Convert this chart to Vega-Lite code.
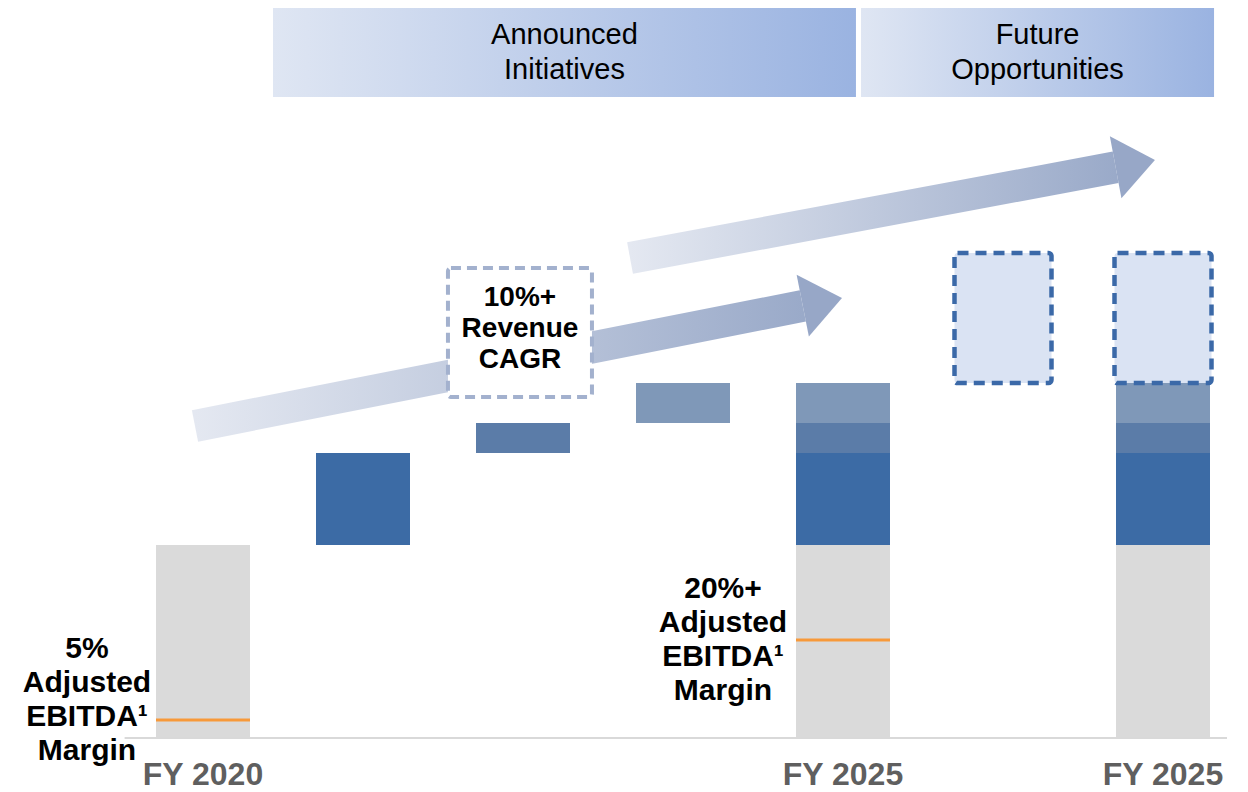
{
  "$schema": "https://vega.github.io/schema/vega-lite/v6.json",
  "width": 1248,
  "height": 738,
  "autosize": "none",
  "padding": {"left": 0, "right": 0, "top": 0, "bottom": 54},
  "background": "white",
  "config": {"view": {"stroke": null}},
  "datasets": {
    "headers": [
      {"a": 0.4375, "b": 4.081, "lo": 332.1, "hi": 378.2, "mid": 2.259, "vmid": 355.2, "label": "Announced\nInitiatives"},
      {"a": 4.1125, "b": 6.319, "lo": 332.1, "hi": 378.2, "mid": 5.216, "vmid": 355.2, "label": "Future\nOpportunities"}
    ],
    "shafts": [
      {"arrow": "lower", "col": -0.05, "v": 161.7},
      {"arrow": "lower", "col": 3.7488, "v": 223.9},
      {"arrow": "upper", "col": 2.669, "v": 248.7},
      {"arrow": "upper", "col": 5.7041, "v": 295.7}
    ],
    "headLower": [{"col": 3.871, "v": 226.0}],
    "headUpper": [{"col": 5.8269, "v": 297.6}],
    "bars": [
      {"col": 0, "lo": 0, "hi": 100, "part": "base"},
      {"col": 1, "lo": 100, "hi": 147.7, "part": "dark"},
      {"col": 2, "lo": 147.7, "hi": 163.2, "part": "mid"},
      {"col": 3, "lo": 163.2, "hi": 183.9, "part": "light"},
      {"col": 4, "lo": 0, "hi": 100, "part": "base"},
      {"col": 4, "lo": 100, "hi": 147.7, "part": "dark"},
      {"col": 4, "lo": 147.7, "hi": 163.2, "part": "mid"},
      {"col": 4, "lo": 163.2, "hi": 183.9, "part": "light"},
      {"col": 6, "lo": 0, "hi": 100, "part": "base"},
      {"col": 6, "lo": 100, "hi": 147.7, "part": "dark"},
      {"col": 6, "lo": 147.7, "hi": 163.2, "part": "mid"},
      {"col": 6, "lo": 163.2, "hi": 183.9, "part": "light"}
    ],
    "future": [
      {"col": 5, "lo": 183.9, "hi": 251.3},
      {"col": 6, "lo": 183.9, "hi": 251.3}
    ],
    "margins": [
      {"col": 0, "v": 9.3},
      {"col": 4, "v": 50.8}
    ],
    "baseline": [{"a": -0.49, "b": 6.4, "v": 0}],
    "cagrBox": [{"a": 1.531, "b": 2.431, "lo": 176.7, "hi": 243.5}],
    "years": [
      {"col": 0, "v": 0, "label": "FY 2020"},
      {"col": 4, "v": 0, "label": "FY 2025"},
      {"col": 6, "v": 0, "label": "FY 2025"}
    ],
    "notes": [
      {"col": 1.981, "v": 211.9, "label": "10%+\nRevenue\nCAGR", "kind": "cagr"},
      {"col": -0.725, "v": 19.7, "label": "5%\nAdjusted\nEBITDA¹\nMargin", "kind": "margin"},
      {"col": 3.25, "v": 50.8, "label": "20%+\nAdjusted\nEBITDA¹\nMargin", "kind": "margin"}
    ]
  },
  "layer": [
    {
      "data": {"name": "bars"},
      "mark": {"type": "bar", "width": 94},
      "encoding": {
        "x": {"field": "col", "type": "quantitative", "scale": {"domain": [-1.26875, 6.53125], "nice": false, "zero": false, "padding": 0}, "axis": null},
        "y": {"field": "lo", "type": "quantitative", "scale": {"domain": [0, 382.4], "nice": false, "zero": false, "padding": 0}, "axis": null},
        "y2": {"field": "hi"},
        "color": {"field": "part", "type": "nominal", "scale": {"domain": ["base", "dark", "mid", "light"], "range": ["#dadada", "#3c6ba5", "#5b7ca8", "#7f98b8"]}, "legend": null}
      }
    },
    {
      "data": {"name": "headers"},
      "mark": {"type": "rect", "fill": {"gradient": "linear", "x1": 0, "y1": 0, "x2": 1, "y2": 0, "stops": [{"offset": 0, "color": "#dfe6f3"}, {"offset": 1, "color": "#9ab3e1"}]}},
      "encoding": {
        "x": {"field": "a", "type": "quantitative", "scale": {"domain": [-1.26875, 6.53125], "nice": false, "zero": false, "padding": 0}, "axis": null},
        "x2": {"field": "b"},
        "y": {"field": "lo", "type": "quantitative", "scale": {"domain": [0, 382.4], "nice": false, "zero": false, "padding": 0}, "axis": null},
        "y2": {"field": "hi"}
      }
    },
    {
      "data": {"name": "headers"},
      "mark": {"type": "text", "font": "Liberation Sans", "fontSize": 29, "lineBreak": "\n", "lineHeight": 35, "dy": -17.5, "color": "#000000", "align": "center", "baseline": "middle"},
      "encoding": {
        "x": {"field": "mid", "type": "quantitative", "scale": {"domain": [-1.26875, 6.53125], "nice": false, "zero": false, "padding": 0}, "axis": null},
        "y": {"field": "vmid", "type": "quantitative", "scale": {"domain": [0, 382.4], "nice": false, "zero": false, "padding": 0}, "axis": null},
        "text": {"field": "label"}
      }
    },
    {
      "data": {"name": "shafts"},
      "mark": {"type": "line", "strokeWidth": 32, "strokeCap": "butt", "stroke": {"gradient": "linear", "x1": 0, "y1": 0, "x2": 1, "y2": 0, "stops": [{"offset": 0, "color": "#e4e8f1"}, {"offset": 1, "color": "#9aaac9"}]}},
      "encoding": {
        "x": {"field": "col", "type": "quantitative", "scale": {"domain": [-1.26875, 6.53125], "nice": false, "zero": false, "padding": 0}, "axis": null},
        "y": {"field": "v", "type": "quantitative", "scale": {"domain": [0, 382.4], "nice": false, "zero": false, "padding": 0}, "axis": null},
        "detail": {"field": "arrow", "type": "nominal"}
      }
    },
    {
      "data": {"name": "headLower"},
      "mark": {"type": "point", "shape": "M -0.635 -1 L 0.635 0 L -0.635 1 Z", "filled": true, "size": 3969, "angle": -11.2, "opacity": 1, "color": "#97a7c7", "strokeWidth": 0},
      "encoding": {
        "x": {"field": "col", "type": "quantitative", "scale": {"domain": [-1.26875, 6.53125], "nice": false, "zero": false, "padding": 0}, "axis": null},
        "y": {"field": "v", "type": "quantitative", "scale": {"domain": [0, 382.4], "nice": false, "zero": false, "padding": 0}, "axis": null}
      }
    },
    {
      "data": {"name": "headUpper"},
      "mark": {"type": "point", "shape": "M -0.635 -1 L 0.635 0 L -0.635 1 Z", "filled": true, "size": 3969, "angle": -10.6, "opacity": 1, "color": "#97a7c7", "strokeWidth": 0},
      "encoding": {
        "x": {"field": "col", "type": "quantitative", "scale": {"domain": [-1.26875, 6.53125], "nice": false, "zero": false, "padding": 0}, "axis": null},
        "y": {"field": "v", "type": "quantitative", "scale": {"domain": [0, 382.4], "nice": false, "zero": false, "padding": 0}, "axis": null}
      }
    },
    {
      "data": {"name": "future"},
      "mark": {"type": "bar", "width": 97, "fill": "#dae3f3", "stroke": "#3b69a8", "strokeWidth": 4.5, "strokeDash": [11, 7], "cornerRadius": 3},
      "encoding": {
        "x": {"field": "col", "type": "quantitative", "scale": {"domain": [-1.26875, 6.53125], "nice": false, "zero": false, "padding": 0}, "axis": null},
        "y": {"field": "lo", "type": "quantitative", "scale": {"domain": [0, 382.4], "nice": false, "zero": false, "padding": 0}, "axis": null},
        "y2": {"field": "hi"}
      }
    },
    {
      "data": {"name": "margins"},
      "mark": {"type": "tick", "orient": "horizontal", "size": 94, "thickness": 3, "color": "#f7993a", "opacity": 1},
      "encoding": {
        "x": {"field": "col", "type": "quantitative", "scale": {"domain": [-1.26875, 6.53125], "nice": false, "zero": false, "padding": 0}, "axis": null},
        "y": {"field": "v", "type": "quantitative", "scale": {"domain": [0, 382.4], "nice": false, "zero": false, "padding": 0}, "axis": null}
      }
    },
    {
      "data": {"name": "baseline"},
      "mark": {"type": "rule", "color": "#d9d9d9", "strokeWidth": 2},
      "encoding": {
        "x": {"field": "a", "type": "quantitative", "scale": {"domain": [-1.26875, 6.53125], "nice": false, "zero": false, "padding": 0}, "axis": null},
        "x2": {"field": "b"},
        "y": {"field": "v", "type": "quantitative", "scale": {"domain": [0, 382.4], "nice": false, "zero": false, "padding": 0}, "axis": null}
      }
    },
    {
      "data": {"name": "cagrBox"},
      "mark": {"type": "rect", "fill": "#ffffff", "stroke": "#a3b1ce", "strokeWidth": 4, "strokeDash": [10, 6], "cornerRadius": 3},
      "encoding": {
        "x": {"field": "a", "type": "quantitative", "scale": {"domain": [-1.26875, 6.53125], "nice": false, "zero": false, "padding": 0}, "axis": null},
        "x2": {"field": "b"},
        "y": {"field": "lo", "type": "quantitative", "scale": {"domain": [0, 382.4], "nice": false, "zero": false, "padding": 0}, "axis": null},
        "y2": {"field": "hi"}
      }
    },
    {
      "data": {"name": "years"},
      "mark": {"type": "text", "font": "Liberation Sans", "fontWeight": "bold", "fontSize": 32, "dy": 37, "color": "#5f5f5f", "align": "center", "baseline": "middle"},
      "encoding": {
        "x": {"field": "col", "type": "quantitative", "scale": {"domain": [-1.26875, 6.53125], "nice": false, "zero": false, "padding": 0}, "axis": null},
        "y": {"field": "v", "type": "quantitative", "scale": {"domain": [0, 382.4], "nice": false, "zero": false, "padding": 0}, "axis": null},
        "text": {"field": "label"}
      }
    },
    {
      "data": {"name": "notes"},
      "transform": [{"filter": "datum.kind == 'cagr'"}],
      "mark": {"type": "text", "font": "Liberation Sans", "fontWeight": "bold", "fontSize": 28, "lineBreak": "\n", "lineHeight": 31, "dy": -31, "color": "#000000", "align": "center", "baseline": "middle"},
      "encoding": {
        "x": {"field": "col", "type": "quantitative", "scale": {"domain": [-1.26875, 6.53125], "nice": false, "zero": false, "padding": 0}, "axis": null},
        "y": {"field": "v", "type": "quantitative", "scale": {"domain": [0, 382.4], "nice": false, "zero": false, "padding": 0}, "axis": null},
        "text": {"field": "label"}
      }
    },
    {
      "data": {"name": "notes"},
      "transform": [{"filter": "datum.kind == 'margin'"}],
      "mark": {"type": "text", "font": "Liberation Sans", "fontWeight": "bold", "fontSize": 30, "lineBreak": "\n", "lineHeight": 34, "dy": -51, "color": "#000000", "align": "center", "baseline": "middle"},
      "encoding": {
        "x": {"field": "col", "type": "quantitative", "scale": {"domain": [-1.26875, 6.53125], "nice": false, "zero": false, "padding": 0}, "axis": null},
        "y": {"field": "v", "type": "quantitative", "scale": {"domain": [0, 382.4], "nice": false, "zero": false, "padding": 0}, "axis": null},
        "text": {"field": "label"}
      }
    }
  ]
}
